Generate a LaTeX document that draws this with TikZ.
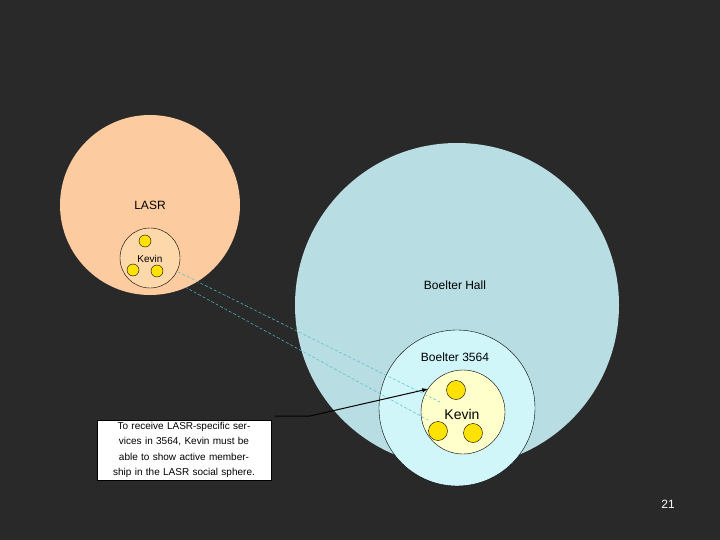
\documentclass[tikz,border=0pt]{standalone}
\usepackage{fontspec}
\setmainfont{Liberation Sans}
\begin{document}
\begin{tikzpicture}[x=1pt,y=-1pt,
  yel/.style={circle,draw=black,fill=yellow!90!orange!60,line width=0.5pt},
  lbl/.style={font=\fontsize{12}{14}\selectfont}]
\useasboundingbox[fill={rgb,255:red,41;green,41;blue,41}] (0,0) rectangle (720,540);
\fill[fill={rgb,255:red,252;green,204;blue,160}] (150,205) circle (90);
\fill[fill={rgb,255:red,184;green,222;blue,228}] (457,305) circle (162);
\draw[fill={rgb,255:red,208;green,246;blue,250},line width=0.4pt] (457,408) circle (78);
\draw[fill={rgb,255:red,255;green,255;blue,204},line width=0.4pt] (463,412) circle (42);
\draw[fill={rgb,255:red,252;green,216;blue,170},line width=0.4pt] (150,258) circle (30);
\node[lbl] (lasr) at (150,205) {LASR};
\node[lbl] (bh) at (455,285) {Boelter Hall};
\node[lbl] (b3564) at (455,357) {Boelter 3564};
\node[lbl,font=\fontsize{14}{16}\selectfont] (kevin2) at (462,414) {Kevin};
\node[font=\fontsize{10}{12}\selectfont] (kevin1) at (150,259) {Kevin};
\draw[fill=yellow!85!orange,line width=0.4pt] (145,241) circle (6) (133,270) circle (6) (157,271) circle (6);
\draw[fill=yellow!85!orange,line width=0.4pt] (456,390) circle (9.5) (438,431) circle (9.5) (473,433) circle (9.5);
\coordinate (d1a) at (178,272); \coordinate (d1b) at (440,402);
\coordinate (d2a) at (185,287); \coordinate (d2b) at (428,420);
\draw[dashed,color={rgb,255:red,80;green,190;blue,200},dash pattern=on 3pt off 2pt,line width=0.5pt] (d1a) -- (d1b) (d2a) -- (d2b);
\node[draw=black,fill=white,align=center,inner sep=2pt,text width=170pt,font=\fontsize{10}{15.5}\selectfont] (note) at (184,450) {To receive LASR-specific services in 3564, Kevin must be able to show active membership in the LASR social sphere.};
\coordinate (bend) at (310,416);
\draw[-latex,line width=1pt] (note.east |- bend) ++(4,0) coordinate (s) -- (bend) -- (428,389);
\node[text=white,font=\fontsize{12}{14}\selectfont] (pg) at (668,504) {21};
\end{tikzpicture}
\end{document}
